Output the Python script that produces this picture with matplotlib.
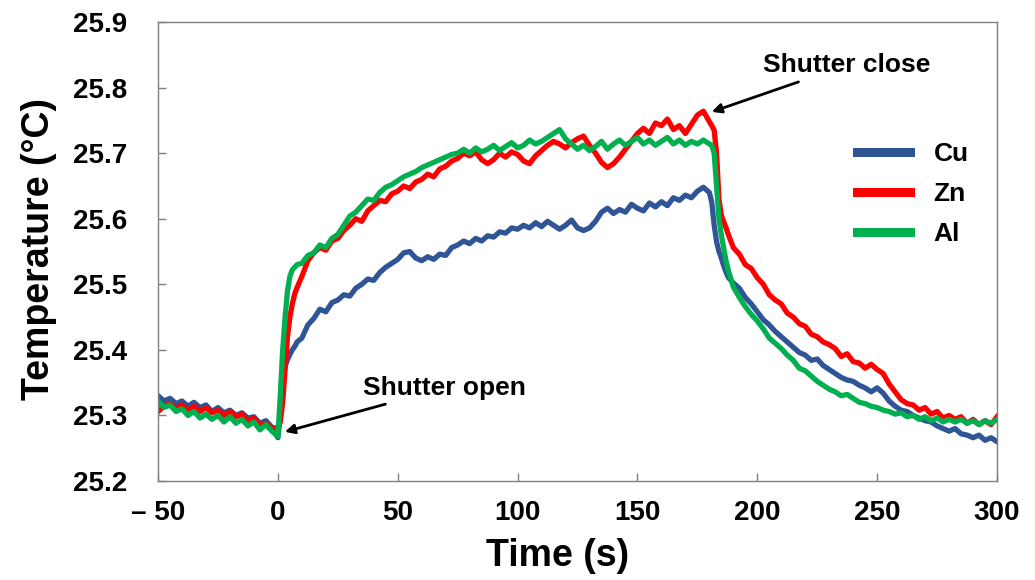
import numpy as np
import matplotlib
matplotlib.use("Agg")
import matplotlib.pyplot as plt

# time axis (s): denser sampling around shutter open / close
time = np.concatenate([np.arange(-50, 0, 2.5), np.arange(0, 9, 1),
                       np.arange(10, 180, 2.5), np.arange(180, 189, 1),
                       np.arange(190, 300.1, 2.5)])

cu = [25.330, 25.322, 25.326, 25.318, 25.322, 25.314, 25.320, 25.312, 25.316, 25.306,
      25.312, 25.304, 25.308, 25.300, 25.304, 25.296, 25.298, 25.288, 25.292, 25.282,
      # open
      25.266, 25.300, 25.355, 25.375, 25.385, 25.393, 25.400, 25.405, 25.412,
      # 10 .. 177.5
      25.418, 25.438, 25.448, 25.462, 25.458, 25.472, 25.476, 25.484, 25.482, 25.494,
      25.500, 25.508, 25.506, 25.518, 25.526, 25.532, 25.538, 25.548, 25.550, 25.540,
      25.536, 25.542, 25.538, 25.546, 25.544, 25.556, 25.560, 25.566, 25.562, 25.570,
      25.566, 25.574, 25.572, 25.580, 25.578, 25.586, 25.584, 25.590, 25.586, 25.594,
      25.588, 25.596, 25.590, 25.584, 25.590, 25.598, 25.586, 25.582, 25.586, 25.596,
      25.610, 25.616, 25.608, 25.614, 25.610, 25.622, 25.616, 25.612, 25.624, 25.618,
      25.626, 25.620, 25.632, 25.628, 25.636, 25.632, 25.642, 25.648,
      # close
      25.640, 25.625, 25.590, 25.565, 25.550, 25.540, 25.528, 25.518, 25.510,
      # 190 .. 300
      25.502, 25.494, 25.480, 25.470, 25.458, 25.446, 25.438, 25.428, 25.420, 25.412,
      25.404, 25.396, 25.392, 25.384, 25.386, 25.376, 25.370, 25.364, 25.358, 25.354,
      25.352, 25.346, 25.342, 25.336, 25.342, 25.334, 25.322, 25.314, 25.308, 25.306,
      25.300, 25.296, 25.292, 25.290, 25.284, 25.280, 25.276, 25.280, 25.272, 25.270,
      25.266, 25.270, 25.262, 25.266, 25.260]

zn = [25.306, 25.314, 25.318, 25.310, 25.316, 25.308, 25.314, 25.306, 25.312, 25.304,
      25.308, 25.300, 25.306, 25.298, 25.302, 25.292, 25.296, 25.286, 25.288, 25.280,
      25.282, 25.290, 25.320, 25.370, 25.420, 25.450, 25.470, 25.485, 25.495,
      25.512, 25.536, 25.548, 25.556, 25.552, 25.566, 25.570, 25.582, 25.590, 25.600,
      25.596, 25.612, 25.620, 25.628, 25.626, 25.638, 25.642, 25.650, 25.646, 25.656,
      25.660, 25.668, 25.664, 25.676, 25.680, 25.688, 25.692, 25.700, 25.696, 25.702,
      25.690, 25.684, 25.690, 25.700, 25.694, 25.702, 25.698, 25.688, 25.684, 25.696,
      25.704, 25.712, 25.718, 25.714, 25.708, 25.716, 25.722, 25.726, 25.712, 25.700,
      25.686, 25.678, 25.684, 25.694, 25.706, 25.718, 25.730, 25.738, 25.730, 25.746,
      25.742, 25.752, 25.736, 25.742, 25.730, 25.744, 25.758, 25.764,
      25.748, 25.742, 25.735, 25.700, 25.630, 25.605, 25.595, 25.586, 25.575,
      25.556, 25.546, 25.530, 25.524, 25.510, 25.500, 25.484, 25.476, 25.470, 25.456,
      25.450, 25.440, 25.436, 25.424, 25.420, 25.412, 25.408, 25.402, 25.390, 25.394,
      25.382, 25.380, 25.372, 25.378, 25.370, 25.364, 25.348, 25.336, 25.324, 25.318,
      25.316, 25.308, 25.312, 25.302, 25.306, 25.296, 25.300, 25.294, 25.298, 25.288,
      25.294, 25.286, 25.292, 25.286, 25.298]

al = [25.322, 25.312, 25.316, 25.306, 25.310, 25.300, 25.306, 25.296, 25.302, 25.294,
      25.300, 25.290, 25.298, 25.288, 25.294, 25.284, 25.290, 25.278, 25.286, 25.276,
      25.268, 25.330, 25.400, 25.450, 25.490, 25.512, 25.522, 25.526, 25.530,
      25.532, 25.544, 25.548, 25.560, 25.556, 25.570, 25.576, 25.590, 25.604, 25.610,
      25.620, 25.630, 25.628, 25.640, 25.648, 25.652, 25.658, 25.664, 25.668, 25.672,
      25.678, 25.682, 25.686, 25.690, 25.694, 25.698, 25.700, 25.706, 25.700, 25.708,
      25.702, 25.706, 25.712, 25.704, 25.710, 25.716, 25.708, 25.712, 25.720, 25.714,
      25.718, 25.724, 25.730, 25.736, 25.722, 25.714, 25.706, 25.712, 25.704, 25.710,
      25.718, 25.706, 25.714, 25.720, 25.712, 25.718, 25.724, 25.714, 25.720, 25.712,
      25.718, 25.724, 25.714, 25.720, 25.712, 25.718, 25.714, 25.720,
      25.714, 25.712, 25.700, 25.650, 25.600, 25.575, 25.555, 25.535, 25.520,
      25.496, 25.480, 25.466, 25.454, 25.444, 25.432, 25.418, 25.410, 25.402, 25.392,
      25.384, 25.372, 25.368, 25.360, 25.352, 25.346, 25.340, 25.336, 25.330, 25.332,
      25.326, 25.320, 25.318, 25.314, 25.312, 25.308, 25.306, 25.302, 25.304, 25.298,
      25.300, 25.294, 25.298, 25.292, 25.296, 25.290, 25.294, 25.290, 25.294, 25.288,
      25.292, 25.286, 25.292, 25.288, 25.294]

labels = ["Cu", "Zn", "Al"]
colors = ["#2F5597", "#FF0000", "#00B050"]
xticks = [-50, 0, 50, 100, 150, 200, 250, 300]
xticklabels = ["\u2013 50", "0", "50", "100", "150", "200", "250", "300"]
yticks = [25.2, 25.3, 25.4, 25.5, 25.6, 25.7, 25.8, 25.9]

plt.rcParams["font.family"] = ["Liberation Sans", "DejaVu Sans"]
plt.rcParams["font.weight"] = "bold"

fig = plt.figure(figsize=(10.35, 5.8), dpi=100)
ax = fig.add_axes([0.1527, 0.1707, 0.8106, 0.7913])

for y, lab, c in zip([cu, zn, al], labels, colors):
    ax.plot(time, y, color=c, lw=3.8, label=lab)

ax.set_xlim(-50, 300)
ax.set_ylim(25.2, 25.9)
ax.set_xticks(xticks)
ax.set_xticklabels(xticklabels)
ax.set_yticks(yticks)
ax.set_yticklabels(["%.1f" % v for v in yticks])
ax.tick_params(direction="in", length=6, width=1, color="#7f7f7f",
               labelsize=20, top=False, right=False)
ax.tick_params(axis="y", pad=22)
ax.tick_params(axis="x", pad=14)
for s in ax.spines.values():
    s.set_color("#7f7f7f")
    s.set_linewidth(1)

ax.set_xlabel("Time (s)", fontsize=27, fontweight="bold")
ax.xaxis.set_label_coords(0.476, -0.125)
ax.set_ylabel("Temperature (\u00b0C)", fontsize=27, fontweight="bold")
ax.yaxis.set_label_coords(-0.121, 0.505)

leg = ax.legend(loc="upper left", bbox_to_anchor=(0.805, 0.79), frameon=False,
                fontsize=19, handlelength=2.0, handletextpad=0.9, labelspacing=0.6)
for ln in leg.get_lines():
    ln.set_linewidth(6.5)

ax.annotate("Shutter open", xy=(2.9, 25.275), xytext=(35.5, 25.342),
            fontsize=19, fontweight="bold", va="center", ha="left",
            arrowprops=dict(arrowstyle="-|>", color="black", lw=2,
                            mutation_scale=14, shrinkA=4, shrinkB=0),
            )
ax.annotate("Shutter close", xy=(181, 25.763), xytext=(202.3, 25.834),
            fontsize=19, fontweight="bold", va="center", ha="left",
            arrowprops=dict(arrowstyle="-|>", color="black", lw=2,
                            mutation_scale=14, shrinkA=4, shrinkB=0),
            )

fig.savefig("out.png", dpi=100)
